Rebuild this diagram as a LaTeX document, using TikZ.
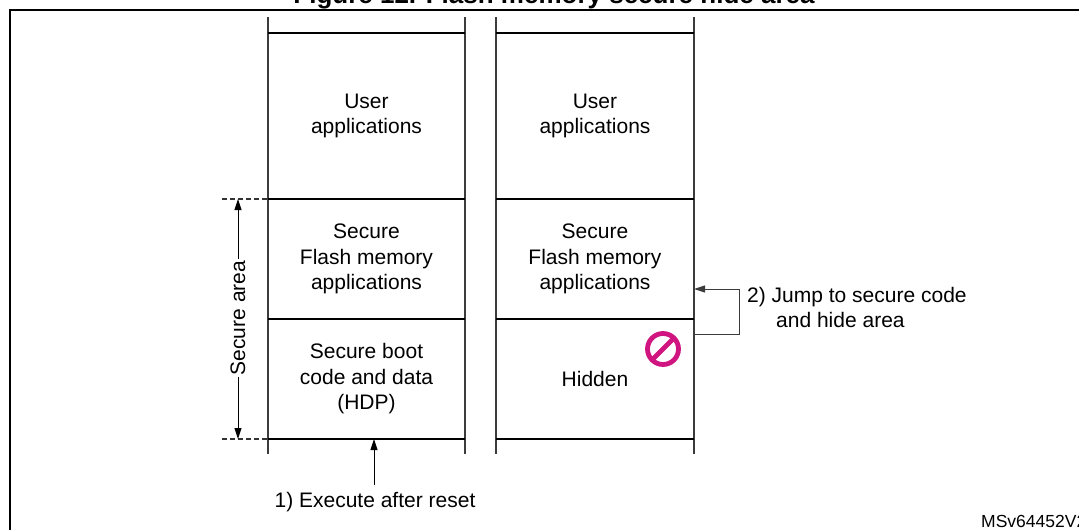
\documentclass[tikz,border=0pt]{standalone}
\usepackage{fontspec}
\setmainfont{Liberation Sans}
\usetikzlibrary{arrows.meta}
\definecolor{stmag}{RGB}{208,20,128}
\definecolor{lgray}{RGB}{60,60,60}
\begin{document}
\begin{tikzpicture}[x=1pt,y={(0pt,-1pt)},
  lbl/.style={font=\fontsize{21}{25.5}\selectfont, align=center, inner sep=0pt},
  vline/.style={line width=1.1pt, draw=lgray},
  hline/.style={line width=1.5pt, draw=black},
  tipend/.style={-{Triangle[length=11pt,width=7pt]}},
  bothtips/.style={{Triangle[length=11pt,width=7pt]}-{Triangle[length=11pt,width=7pt]}},
  conn/.style={line width=1pt, draw=black},
  dashline/.style={line width=1.1pt, draw=black!80, dash pattern=on 5pt off 3pt}]
\useasboundingbox (0,0) rectangle (1079,530);
\fill[white] (0,0) rectangle (1079,530);
% clipped texts at edges
\begin{scope}
  \clip (0,0) rectangle (1079,530);
  \node[font=\bfseries\fontsize{26}{30}\selectfont, anchor=base, inner sep=0pt] (title) at (554,3) {Figure 12. Flash memory secure hide area};
  \node[font=\fontsize{17.5}{20}\selectfont, anchor=base west, inner sep=0pt] (docid) at (981,527) {MSv64452V2};
  \draw[line width=2.4pt] (10,540) -- (10,10) -- (1090,10);
\end{scope}
% column geometry
\coordinate (LT) at (268,17);  \coordinate (LB) at (268,454);
\coordinate (MT) at (465,17);  \coordinate (MB) at (465,454);
\coordinate (NT) at (496,17);  \coordinate (NB) at (496,454);
\coordinate (RT) at (694,17);  \coordinate (RB) at (694,454);
\draw[vline] (LT) -- (LB);
\draw[vline] (MT) -- (MB);
\draw[vline] (NT) -- (NB);
\draw[vline] (RT) -- (RB);
\foreach \yy in {33,199,319,439} {
  \draw[hline] (268,\yy) -- (465,\yy);
  \draw[hline] (496,\yy) -- (694,\yy);
}
% cell texts
\node[lbl] (u1) at (366.5,116) {User\\applications};
\node[lbl] (s1) at (366.5,259) {Secure\\Flash memory\\applications};
\node[lbl] (b1) at (366.5,379) {Secure boot\\code and data\\(HDP)};
\node[lbl] (u2) at (595,116) {User\\applications};
\node[lbl] (s2) at (595,259) {Secure\\Flash memory\\applications};
\node[lbl] (h2) at (595,379) {Hidden};
% prohibition sign
\node[circle, draw=stmag, line width=4.8pt, minimum size=31pt, inner sep=0pt, outer sep=0pt] (nosign) at (663,349) {};
\draw[stmag, line width=4.8pt] (nosign.45) -- (nosign.225);
% secure area
\coordinate (sa1) at (238,199);
\coordinate (sa2) at (238,439);
\coordinate (da1) at (222,199);
\coordinate (da2) at (222,439);
\draw[dashline] (da1) -- (268,199);
\draw[dashline] (da2) -- (268,439);
\draw[conn, bothtips] (sa1) -- (sa2);
\node[lbl, rotate=90, fill=white, inner sep=2pt] (sa) at (238,318) {Secure area};
% execute after reset
\node[lbl, anchor=base] (exec) at (375,507) {1) Execute after reset};
\coordinate (execin) at (374,439);
\draw[conn, tipend, shorten <=7pt] (exec.north -| execin) -- (execin);
% jump
\coordinate (j1) at (694,334);
\coordinate (j2) at (739,334);
\coordinate (j3) at (739,289);
\coordinate (j4) at (694,289);
\draw[conn, draw=lgray, tipend] (j1) -- (j2) -- (j3) -- (j4);
\node[lbl, align=left, anchor=north west] (jump) at (747,287) {2) Jump to secure code\\\hspace{29pt}and hide area};
\end{tikzpicture}
\end{document}
